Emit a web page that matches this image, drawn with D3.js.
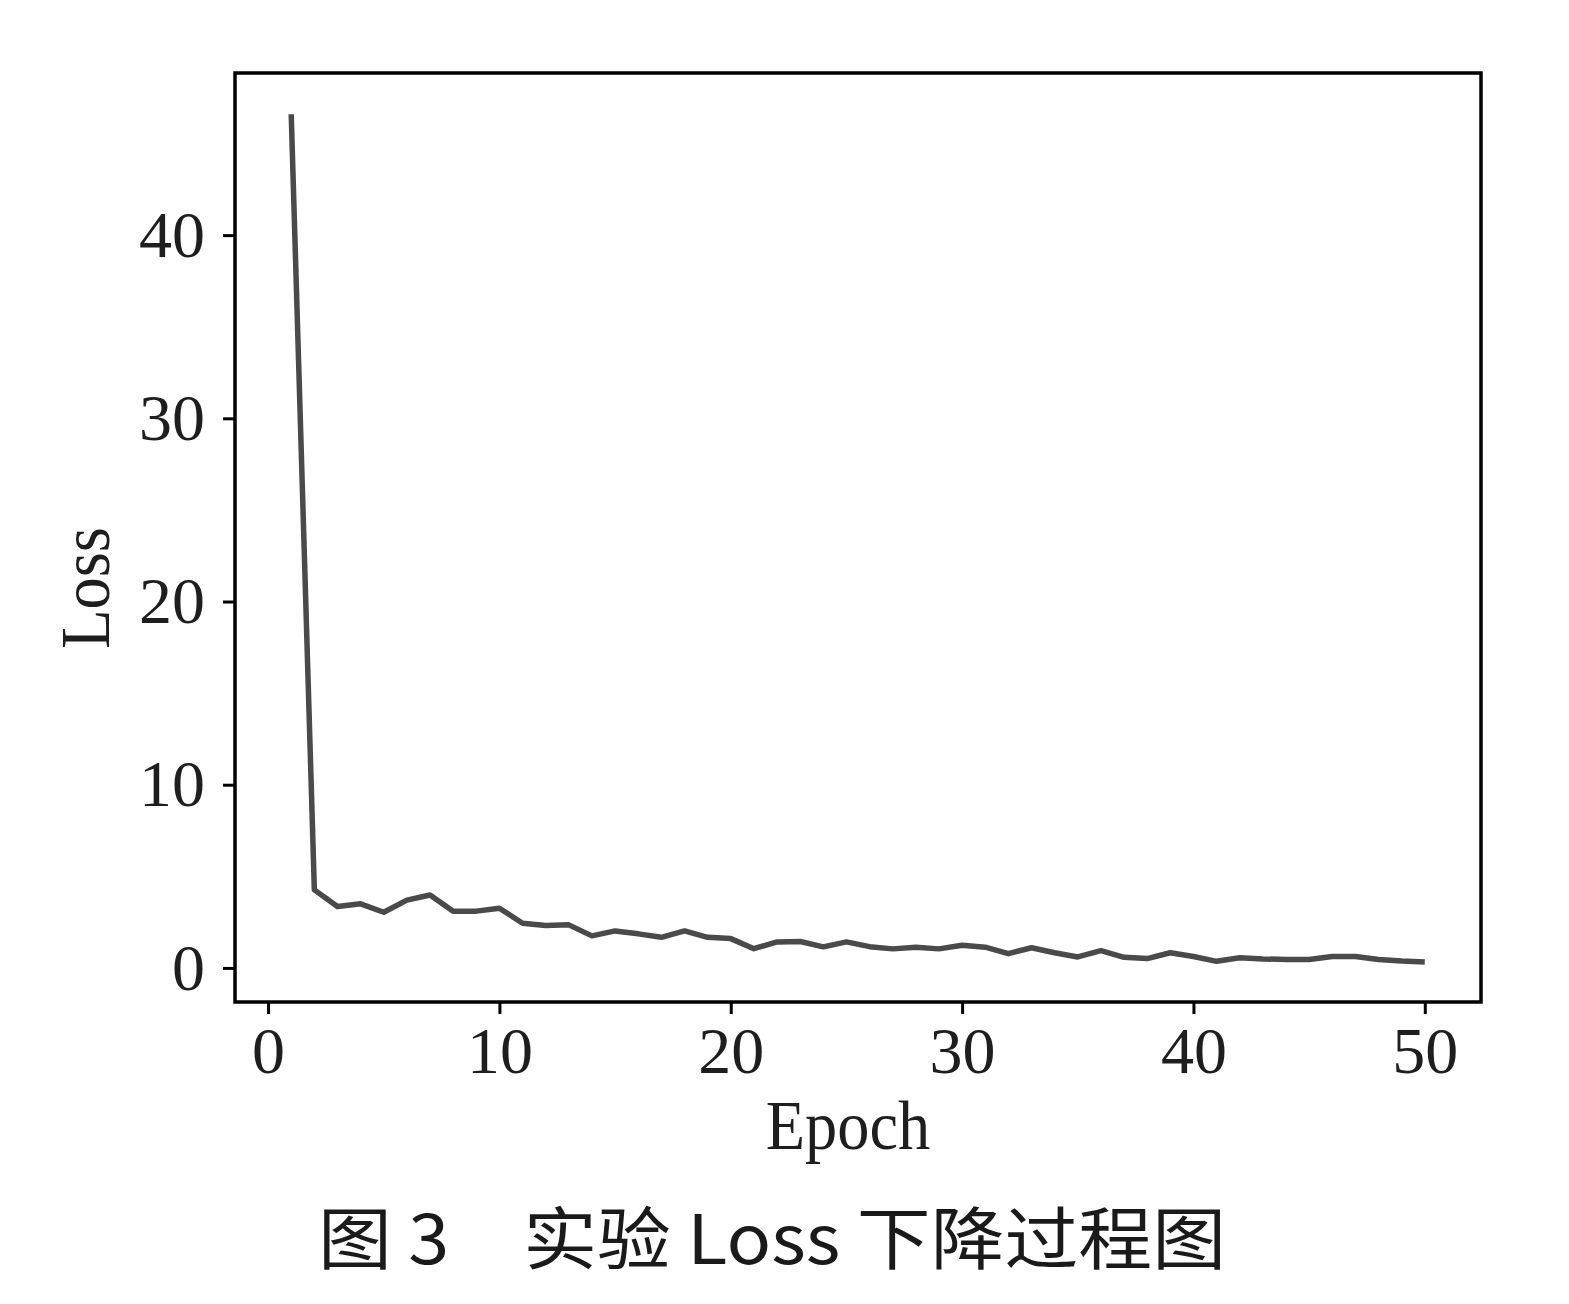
<!DOCTYPE html>
<html><head><meta charset="utf-8">
<script src="https://cdn.jsdelivr.net/npm/d3@7"></script>
<style>body{margin:0;background:#fff;}svg{display:block;}</style>
</head><body>
<svg id="c" width="1569" height="1304"></svg>
<script>
const epochs = d3.range(1, 51);
const loss = [46.6, 4.26, 3.35, 3.5, 3.04, 3.7, 3.98, 3.1, 3.1, 3.26,
  2.44, 2.31, 2.35, 1.75, 2.02, 1.86, 1.67, 2.02, 1.67, 1.6,
  1.05, 1.42, 1.44, 1.15, 1.42, 1.16, 1.04, 1.13, 1.04, 1.24,
  1.13, 0.78, 1.1, 0.83, 0.6, 0.94, 0.58, 0.51, 0.83, 0.62,
  0.36, 0.56, 0.49, 0.46, 0.46, 0.62, 0.62, 0.46, 0.38, 0.33];
const xTicks = [0, 10, 20, 30, 40, 50];
const yTicks = [0, 10, 20, 30, 40];
const xLabel = "Epoch", yLabel = "Loss";
const caption = "图 3　实验 Loss 下降过程图";

const L = 235, R = 1481, T = 73, B = 1002;
const svg = d3.select("#c");
const x = d3.scaleLinear().domain([-1.43, 52.43]).range([L, R]);
const y = d3.scaleLinear().domain([-1.86, 48.85]).range([B, T]);
const serif = "'Liberation Serif','DejaVu Serif',serif";

const xAxis = svg.append("g").attr("transform", `translate(0,${B})`)
  .call(d3.axisBottom(x).tickValues(xTicks).tickSize(12).tickPadding(12).tickFormat(d3.format("d")));
const yAxis = svg.append("g").attr("transform", `translate(${L},0)`)
  .call(d3.axisLeft(y).tickValues(yTicks).tickSize(12).tickPadding(18).tickFormat(d3.format("d")));
[xAxis, yAxis].forEach(a => {
  a.select(".domain").remove();
  a.selectAll(".tick line").attr("stroke", "#000").attr("stroke-width", 3);
  a.selectAll(".tick text").attr("font-family", serif).attr("font-size", 66).attr("fill", "#1e1e1e");
});

svg.append("path").datum(epochs.map((e, i) => [e, loss[i]]))
  .attr("fill", "none").attr("stroke", "#4a4a4a").attr("stroke-width", 5.5)
  .attr("stroke-linejoin", "round")
  .attr("d", d3.line().x(d => x(d[0])).y(d => y(d[1])));

svg.append("rect").attr("x", L).attr("y", T).attr("width", R - L).attr("height", B - T)
  .attr("fill", "none").attr("stroke", "#000").attr("stroke-width", 3.5);

svg.append("text").attr("transform", "translate(848,1149) scale(0.92,1)")
  .attr("text-anchor", "middle").attr("font-family", serif).attr("font-size", 70)
  .attr("fill", "#1e1e1e").text(xLabel);
svg.append("text").attr("transform", "translate(109,588) rotate(-90) scale(0.92,1)")
  .attr("text-anchor", "middle").attr("font-family", serif).attr("font-size", 70)
  .attr("fill", "#1e1e1e").text(yLabel);

svg.append("text").attr("x", 318).attr("y", 1264)
  .attr("font-family", "'Noto Sans CJK SC',sans-serif").attr("font-size", 68).attr("font-weight", 400)
  .attr("fill", "#1a1a1a").attr("textLength", 908).attr("lengthAdjust", "spacingAndGlyphs")
  .text(caption);
</script>
</body></html>
